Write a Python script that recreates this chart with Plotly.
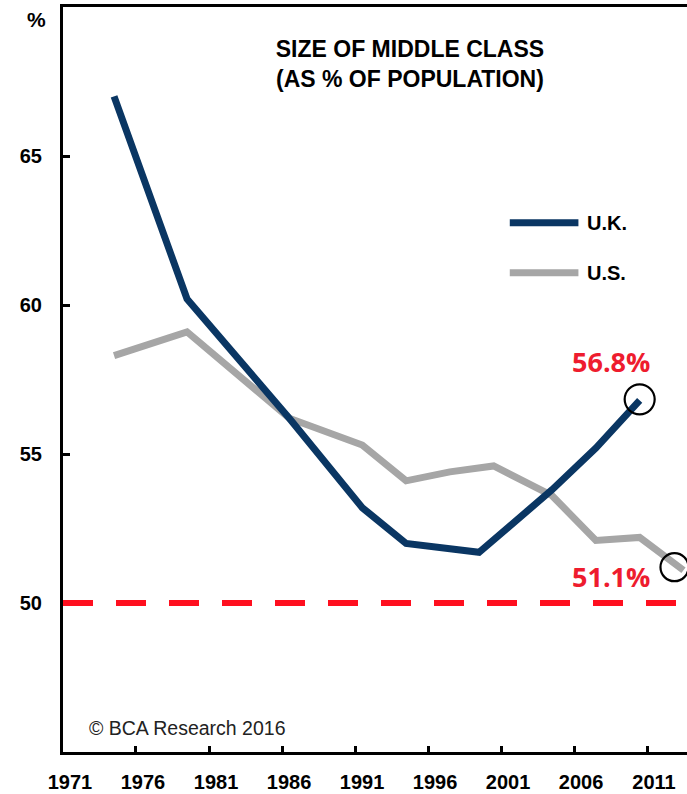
import plotly.graph_objects as go

# ---- data ----
uk_years = [1974, 1979, 1986, 1991, 1994, 1999, 2004, 2007, 2010]
uk_values = [67.0, 60.2, 56.2, 53.2, 52.0, 51.7, 53.8, 55.2, 56.8]

us_years = [1974, 1979, 1986, 1991, 1994, 1997, 2000, 2004, 2007, 2010, 2013]
us_values = [58.3, 59.1, 56.2, 55.3, 54.1, 54.4, 54.6, 53.6, 52.1, 52.2, 51.1]

x_tick_labels = ["1971", "1976", "1981", "1986", "1991", "1996", "2001", "2006", "2011"]
y_tick_values = [50, 55, 60, 65]
threshold = 50

UK_COLOR = "#0a3663"
US_COLOR = "#a6a6a6"
RED = "#ee1c2e"


def mid(y):
    return f"{y}-07-01"


uk_x = [mid(y) for y in uk_years]
us_x = [mid(y) for y in us_years]

fig = go.Figure()
fig.add_trace(go.Scatter(x=us_x, y=us_values, mode="lines", name="U.S.",
                         line=dict(color=US_COLOR, width=7), showlegend=False))
fig.add_trace(go.Scatter(x=uk_x, y=uk_values, mode="lines", name="U.K.",
                         line=dict(color=UK_COLOR, width=7), showlegend=False))

# red dashed 50% line
fig.add_shape(type="line", xref="x domain", yref="y", x0=0, x1=1,
              y0=threshold, y1=threshold,
              line=dict(color="#ff0f1f", width=6, dash="30px,23px"))

# circles around last points
fig.add_shape(type="circle", xref="x", yref="y", xsizemode="pixel", ysizemode="pixel",
              xanchor=uk_x[-1], yanchor=uk_values[-1], x0=-15, x1=15, y0=-14, y1=16,
              line=dict(color="black", width=2.2))
fig.add_shape(type="circle", xref="x", yref="y", xsizemode="pixel", ysizemode="pixel",
              xanchor=us_x[-1], yanchor=us_values[-1], x0=-23, x1=5, y0=-11, y1=17,
              line=dict(color="black", width=2.2))

# value labels
fig.add_annotation(x=uk_x[-1], y=uk_values[-1], text=f"{uk_values[-1]:.1f}%",
                   showarrow=False, xshift=-29, yshift=39,
                   font=dict(family="Open Sans", size=27, color=RED, weight="bold"))
fig.add_annotation(x=us_x[-1], y=us_values[-1], text=f"{us_values[-1]:.1f}%",
                   showarrow=False, xshift=-72, yshift=-6,
                   font=dict(family="Open Sans", size=27, color=RED, weight="bold"))

# manual legend
for name, color, yp in [("U.K.", UK_COLOR, 0.7105), ("U.S.", US_COLOR, 0.6434)]:
    fig.add_shape(type="line", xref="paper", yref="paper", x0=0.716, x1=0.826,
                  y0=yp, y1=yp, line=dict(color=color, width=7))
    fig.add_annotation(xref="paper", yref="paper", x=0.8365, y=yp, text=name,
                       showarrow=False, xanchor="left", yanchor="middle",
                       font=dict(family="Liberation Sans", size=20, color="black", weight="bold"))

# % unit label
fig.add_annotation(xref="paper", yref="paper", x=-0.0417, y=0.9826, text="%",
                   showarrow=False, xanchor="center", yanchor="middle",
                   font=dict(family="Liberation Sans", size=21, color="black", weight="bold"))

# copyright
fig.add_annotation(xref="paper", yref="paper", x=0.039, y=0.032, text="© BCA Research 2016",
                   showarrow=False, xanchor="left", yanchor="middle",
                   font=dict(family="Liberation Sans", size=19.5, color="#222222"))

fig.update_layout(
    width=687, height=794,
    margin=dict(l=63, r=0, t=7, b=42),
    paper_bgcolor="white", plot_bgcolor="white",
    title=dict(text="SIZE OF MIDDLE CLASS<br>(AS % OF POPULATION)",
               xref="paper", yref="paper", x=0.556, y=0.933,
               xanchor="center", yanchor="middle",
               font=dict(family="Liberation Sans", size=23, color="black", weight="bold")),
    showlegend=False,
)

fig.update_xaxes(
    type="date",
    range=["1971-01-01", "2013-09-27"],
    tickvals=[f"{t}-01-01" for t in x_tick_labels],
    ticktext=x_tick_labels,
    ticks="inside", ticklen=6, tickwidth=3, tickcolor="black",
    showline=True, linecolor="black", linewidth=3, mirror=True,
    showgrid=False, zeroline=False,
    tickfont=dict(family="Liberation Sans", size=20, color="black", weight="bold"),
    ticklabelshift=7, ticklabelstandoff=10,
)
fig.update_yaxes(
    range=[45, 70],
    tickvals=y_tick_values,
    ticks="inside", ticklen=7, tickwidth=3, tickcolor="black",
    showline=True, linecolor="black", linewidth=3,
    showgrid=False, zeroline=False,
    tickfont=dict(family="Liberation Sans", size=20, color="black", weight="bold"),
    ticklabelstandoff=14,
)

fig.write_html("out.html", config={"displayModeBar": False},
               post_script="document.body.style.margin='0';document.body.style.overflow='hidden';")
